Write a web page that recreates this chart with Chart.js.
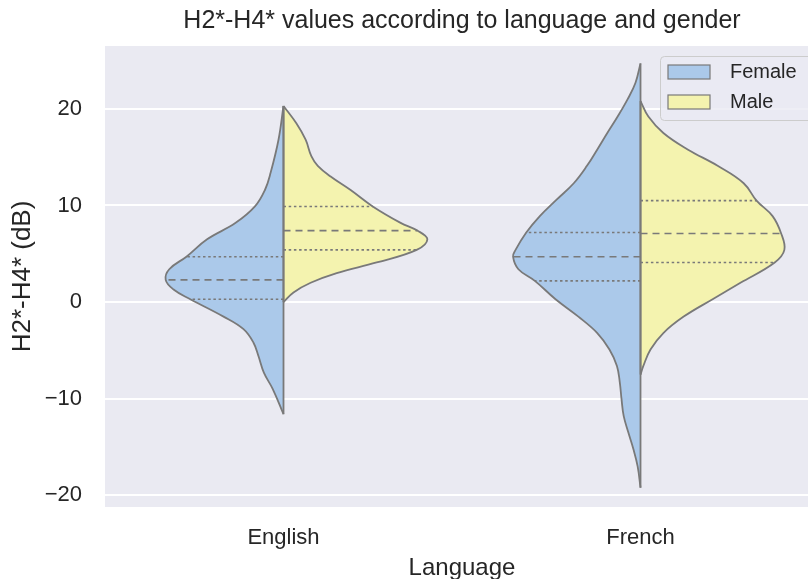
<!DOCTYPE html>
<html><head><meta charset="utf-8">
<script src="https://cdn.jsdelivr.net/npm/chart.js@4/dist/chart.umd.min.js"></script>
<style>
html,body{margin:0;padding:0;background:#fff;overflow:hidden;width:808px;height:579px}
#wrap{position:absolute;left:0;top:0;width:830px;height:600px}
</style>
</head><body><div id="wrap"><canvas id="c" width="830" height="600"></canvas></div>
<script>
// ---- data ----
const categories = ['English', 'French'];
const seriesNames = ['Female', 'Male'];
const yTicks = [-20, -10, 0, 10, 20];

// density outlines: value (dB) and half-width (in category units)
const engFemaleY = [20.3,16.8,13.4,11.6,9.9,8.2,6.5,4.7,3.4,2.3,1.3,0.3,-1.5,-2.8,-4.2,-5.6,-7.3,-9.0,-11.6];
const engFemaleW = [0,.014,.036,.052,.080,.134,.214,.272,.320,.330,.308,.261,.168,.112,.084,.070,.055,.030,0];
const engMaleY   = [20.3,18.5,16.8,15.1,14.1,13.0,11.6,9.9,8.2,7.4,6.5,5.4,4.1,3.0,2.0,1.0,0.0];
const engMaleW   = [0,.036,.062,.078,.096,.132,.188,.250,.328,.375,.403,.373,.261,.149,.076,.028,0];
const freFemaleY = [24.7,22.7,21.0,19.2,17.5,15.8,14.1,12.3,10.6,8.9,7.2,5.4,4.7,3.4,2.2,0.3,-1.5,-3.2,-4.9,-6.6,-8.3,-10.1,-11.8,-13.5,-15.2,-17.0,-19.2];
const freFemaleW = [0,.014,.036,.064,.093,.121,.150,.187,.235,.282,.320,.350,.357,.342,.296,.238,.174,.121,.087,.066,.058,.053,.047,.034,.020,.008,0];
const freMaleY   = [20.8,19.2,17.5,15.8,14.1,12.3,10.5,8.9,7.1,5.4,4.1,2.0,0.3,-1.5,-3.2,-4.9,-6.6,-7.5];
const freMaleW   = [0,.022,.064,.132,.216,.289,.325,.370,.394,.403,.376,.280,.202,.121,.064,.028,.008,0];

// quartiles (Q3, median, Q1) and the half-width where each line meets the outline
const engFemaleQ = [4.7, 2.3, 0.3];   const engFemaleQW = [.272, .330, .261];
const engMaleQ   = [9.9, 7.4, 5.4];   const engMaleQW   = [.250, .375, .373];
const freFemaleQ = [7.2, 4.7, 2.2];   const freFemaleQW = [.320, .357, .296];
const freMaleQ   = [10.5, 7.1, 4.1];  const freMaleQW   = [.325, .394, .376];

// ---- styles ----
const seriesColors = ['#abc9ea', '#f4f3af'];
const edge = '#797979';
const textColor = '#262626';
const FONT = "'Liberation Sans', Arial, sans-serif";

const halves = [
  {cat: 0, side: -1, s: 0, ys: engFemaleY, ws: engFemaleW, qs: engFemaleQ, qws: engFemaleQW},
  {cat: 0, side:  1, s: 1, ys: engMaleY,   ws: engMaleW,   qs: engMaleQ,   qws: engMaleQW},
  {cat: 1, side: -1, s: 0, ys: freFemaleY, ws: freFemaleW, qs: freFemaleQ, qws: freFemaleQW},
  {cat: 1, side:  1, s: 1, ys: freMaleY,   ws: freMaleW,   qs: freMaleQ,   qws: freMaleQW}
];

const datasets = [];
halves.forEach(h => {
  datasets.push({
    label: seriesNames[h.s],
    data: h.ys.map((y, i) => ({x: h.cat + h.side * h.ws[i], y})),
    fill: 'shape',
    backgroundColor: seriesColors[h.s],
    borderColor: edge,
    borderWidth: 1.8,
    tension: 0.4,
    pointRadius: 0,
    order: 10
  });
  datasets.push({
    label: '_center',
    data: [{x: h.cat, y: h.ys[0]}, {x: h.cat, y: h.ys[h.ys.length - 1]}],
    fill: false,
    borderColor: edge,
    borderWidth: 1.8,
    pointRadius: 0,
    order: 2
  });
  h.qs.forEach((q, k) => {
    datasets.push({
      label: '_q',
      data: [{x: h.cat, y: q}, {x: h.cat + h.side * h.qws[k], y: q}],
      fill: false,
      borderColor: edge,
      borderWidth: 1.6,
      borderDash: k === 1 ? [7, 5] : [2.5, 2.7],
      pointRadius: 0,
      order: 1
    });
  });
});

const bgPlugin = {
  id: 'areaBg',
  beforeDraw(chart) {
    const {ctx, chartArea: a} = chart;
    ctx.save();
    ctx.fillStyle = '#fff';
    ctx.fillRect(0, 0, chart.width, chart.height);
    ctx.fillStyle = '#eaeaf2';
    ctx.fillRect(a.left, a.top, a.right - a.left, a.bottom - a.top);
    ctx.restore();
  }
};

const legendPlugin = {
  id: 'insideLegend',
  afterDraw(chart) {
    const ctx = chart.ctx;
    ctx.save();
    const bx = 660, by = 56, bw = 170, bh = 64, r = 4;
    ctx.beginPath();
    ctx.roundRect(bx + 0.5, by + 0.5, bw, bh, r);
    ctx.fillStyle = 'rgba(234,234,242,0.8)';
    ctx.fill();
    ctx.strokeStyle = '#cccccc';
    ctx.lineWidth = 1;
    ctx.stroke();
    seriesNames.forEach((name, i) => {
      const py = 65 + i * 30;
      ctx.fillStyle = seriesColors[i];
      ctx.fillRect(668, py, 42, 14);
      ctx.strokeStyle = edge;
      ctx.lineWidth = 1.2;
      ctx.strokeRect(668, py, 42, 14);
      ctx.fillStyle = textColor;
      ctx.font = '20px ' + FONT;
      ctx.textBaseline = 'middle';
      ctx.textAlign = 'left';
      ctx.fillText(name, 730, py + 7);
    });
    ctx.restore();
  }
};

new Chart(document.getElementById('c'), {
  type: 'line',
  data: {datasets},
  options: {
    responsive: false,
    devicePixelRatio: 1,
    animation: false,
    events: [],
    layout: {padding: {left: 0, right: 11, top: 0, bottom: 0}},
    plugins: {
      legend: {display: false},
      tooltip: {enabled: false},
      title: {
        display: true,
        fullSize: false,
        text: 'H2*-H4* values according to language and gender',
        color: textColor,
        font: {family: FONT, size: 25, weight: 'normal'},
        padding: {top: 6, bottom: 10}
      }
    },
    scales: {
      x: {
        type: 'linear',
        min: -0.5, max: 1.5,
        afterBuildTicks: s => { s.ticks = categories.map((c, i) => ({value: i})); },
        afterFit: s => { s.height = 93; },
        ticks: {
          callback: v => categories[v],
          color: textColor,
          font: {family: FONT, size: 22},
          padding: 18,
          maxRotation: 0,
          autoSkip: false
        },
        grid: {display: false, drawTicks: false},
        border: {display: false},
        title: {
          display: true, text: 'Language', color: textColor,
          font: {family: FONT, size: 24}, padding: {top: 0, bottom: 17}
        }
      },
      y: {
        type: 'linear',
        min: -21.2, max: 26.5,
        afterBuildTicks: s => { s.ticks = yTicks.map(v => ({value: v})); },
        afterFit: s => { s.width = 105; },
        ticks: {
          callback: v => String(v).replace('-', '\u2212'),
          color: textColor,
          font: {family: FONT, size: 22},
          padding: 23
        },
        grid: {color: '#ffffff', lineWidth: 2, drawTicks: false},
        border: {display: false},
        title: {
          display: true, text: 'H2*-H4* (dB)', color: textColor,
          font: {family: FONT, size: 26}, padding: {top: 7, bottom: 0}
        }
      }
    }
  },
  plugins: [bgPlugin, legendPlugin]
});
</script>
</body></html>
